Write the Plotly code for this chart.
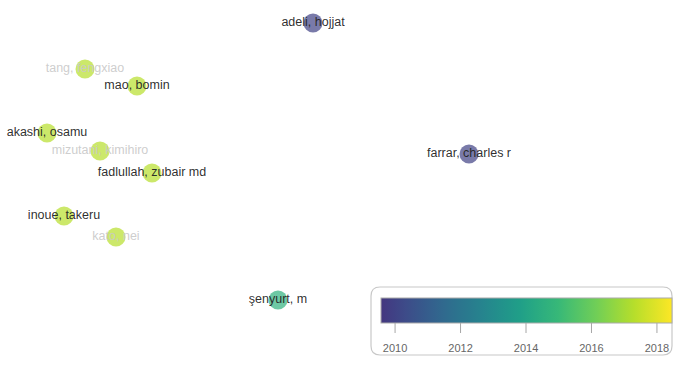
import plotly.graph_objects as go
from plotly.colors import sample_colorscale

# VOSviewer overlay map data
authors = ["adeli, hojjat", "tang, fengxiao", "mao, bomin", "akashi, osamu",
           "mizutani, kimihiro", "fadlullah, zubair md", "inoue, takeru",
           "kato, nei", "farrar, charles r", "şenyurt, m"]
map_x = [313, 85, 137, 47, 100, 152, 64, 116, 469, 278]
map_y = [23, 69, 86, 133, 151, 173, 216, 237, 154, 300]
avg_year = [2010.0, 2017.3, 2017.3, 2017.3, 2017.3, 2017.3, 2017.3, 2017.3, 2010.0, 2014.6]
label_faded = [False, True, False, False, True, False, False, True, False, False]
year_ticks = [2010, 2012, 2014, 2016, 2018]
year_min, year_max = 2009.57, 2018.46

W, H = 680, 365

# viridis without its darkest part (as in VOSviewer overlay)
n = 24
vals = [0.16 + 0.84 * i / (n - 1) for i in range(n)]
cols = sample_colorscale("Viridis", vals)
cscale = [[i / (n - 1), c] for i, c in enumerate(cols)]

label_colors = ["rgba(35,35,35,0.95)" if not f else "rgba(200,200,200,0.9)" for f in label_faded]

cb_x0, cb_len, cb_top, cb_thick = 381, 291, 298, 25

fig = go.Figure()
fig.add_trace(go.Scatter(
    x=map_x, y=map_y, mode="markers+text",
    text=authors, textposition="middle center",
    textfont=dict(family="Liberation Sans", size=12.5, color=label_colors),
    marker=dict(
        size=19, color=avg_year, colorscale=cscale, cmin=year_min, cmax=year_max,
        opacity=0.7, line=dict(width=0),
        colorbar=dict(
            orientation="h", lenmode="pixels", len=cb_len, thickness=cb_thick,
            x=cb_x0 / W, xanchor="left", y=1 - cb_top / H, yanchor="top",
            xpad=0, ypad=0, outlinewidth=1, outlinecolor="#aaa",
            tickvals=year_ticks, ticks="outside", ticklen=16, tickcolor="rgba(0,0,0,0)",
            tickfont=dict(family="Liberation Sans", size=11, color="#666"),
        ),
    ),
    hoverinfo="text", showlegend=False,
))

# tick marks crossing the bar's lower edge
for yr in year_ticks:
    px = cb_x0 + (yr - year_min) / (year_max - year_min) * cb_len
    fig.add_shape(type="line", xref="paper", yref="paper",
                  x0=px / W, x1=px / W,
                  y0=1 - (cb_top + cb_thick + 10) / H, y1=1 - (cb_top + cb_thick - 10) / H,
                  line=dict(color="rgba(150,150,150,0.85)", width=1))

# Rounded legend box
x0, y0, x1, y1, r = 371, 287, 672, 355, 9
path = (f"M {x0+r},{y0} L {x1-r},{y0} Q {x1},{y0} {x1},{y0+r} L {x1},{y1-r} Q {x1},{y1} {x1-r},{y1} "
        f"L {x0+r},{y1} Q {x0},{y1} {x0},{y1-r} L {x0},{y0+r} Q {x0},{y0} {x0+r},{y0} Z")
fig.add_shape(type="path", path=path, xref="x", yref="y",
              line=dict(color="#c8c8c8", width=1.2), fillcolor="rgba(0,0,0,0)", layer="below")

fig.update_layout(
    width=W, height=H, margin=dict(l=0, r=0, t=0, b=0),
    paper_bgcolor="white", plot_bgcolor="white",
    xaxis=dict(range=[0, W], visible=False, fixedrange=True),
    yaxis=dict(range=[H, 0], visible=False, fixedrange=True),
)

fig.write_html("out.html")
